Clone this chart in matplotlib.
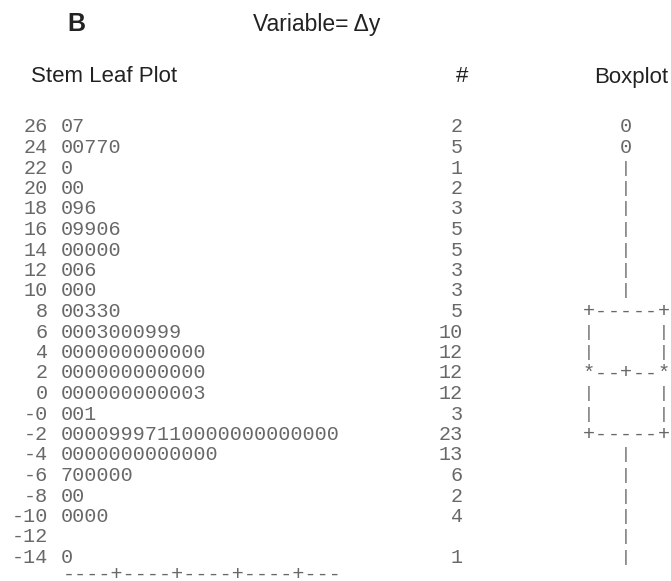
import matplotlib.pyplot as plt

# Stem-and-leaf output for the variable delta y
stems = ["26", "24", "22", "20", "18", "16", "14", "12", "10", "8", "6", "4", "2",
         "0", "-0", "-2", "-4", "-6", "-8", "-10", "-12", "-14"]
leaves = ["07", "00770", "0", "00", "096", "09906", "00000", "006", "000", "00330",
          "0003000999", "000000000000", "000000000000", "000000000003", "001",
          "00009997110000000000000", "0000000000000", "700000", "00", "0000", "", "0"]
counts = [2, 5, 1, 2, 3, 5, 5, 3, 3, 5, 10, 12, 12, 12, 3, 23, 13, 6, 2, 4, None, 1]
boxplot = ["0", "0", "|", "|", "|", "|", "|", "|", "|",
           "+-----+", "|     |", "|     |", "*--+--*", "|     |", "|     |", "+-----+",
           "|", "|", "|", "|", "|", "|"]
axis_line = "----+----+----+----+---"

fig = plt.figure(figsize=(6.71, 5.81), dpi=100)
ax = fig.add_axes([0, 0, 1, 1])
ax.set_xlim(0, 671)
ax.set_ylim(581, 0)
ax.axis("off")

grey = "#686868"
mono = dict(family="Liberation Mono", fontsize=14.5, color=grey, va="center")
sans = dict(family="Liberation Sans", color="#222222", va="center")

ax.text(67, 24, "B", fontsize=18, fontweight="bold", **sans)
ax.text(253, 24, "Variable= \u0394y", fontsize=16.5, **sans)
ax.text(31, 77, "Stem Leaf Plot", fontsize=16, **sans)
ax.text(462, 77, "#", fontsize=16, ha="center", **sans)
ax.text(594, 77, "Boxplot", fontsize=16, ha="left", **sans)

y0, dy = 127, 20.5
box_x, pitch = 626, 12.5
for i, (s, l, c, b) in enumerate(zip(stems, leaves, counts, boxplot)):
    y = y0 + i * dy
    ax.text(48, y, s, ha="right", **mono)
    ax.text(61, y, l, ha="left", **mono)
    if c is not None:
        ax.text(463, y, str(c), ha="right", **mono)
    # boxplot drawn character by character so the bars stay short
    n = len(b)
    for j, ch in enumerate(b):
        if ch == " ":
            continue
        x = box_x + (j - (n - 1) / 2) * pitch
        if ch == "|":
            ax.text(x, y, ch, ha="center", va="center", family="Liberation Mono",
                    fontsize=12, color=grey)
        else:
            ax.text(x, y, ch, ha="center", **mono)

ax.text(63, y0 + len(stems) * dy - 4, axis_line, ha="left", **mono)

fig.savefig("out.png", dpi=100)
